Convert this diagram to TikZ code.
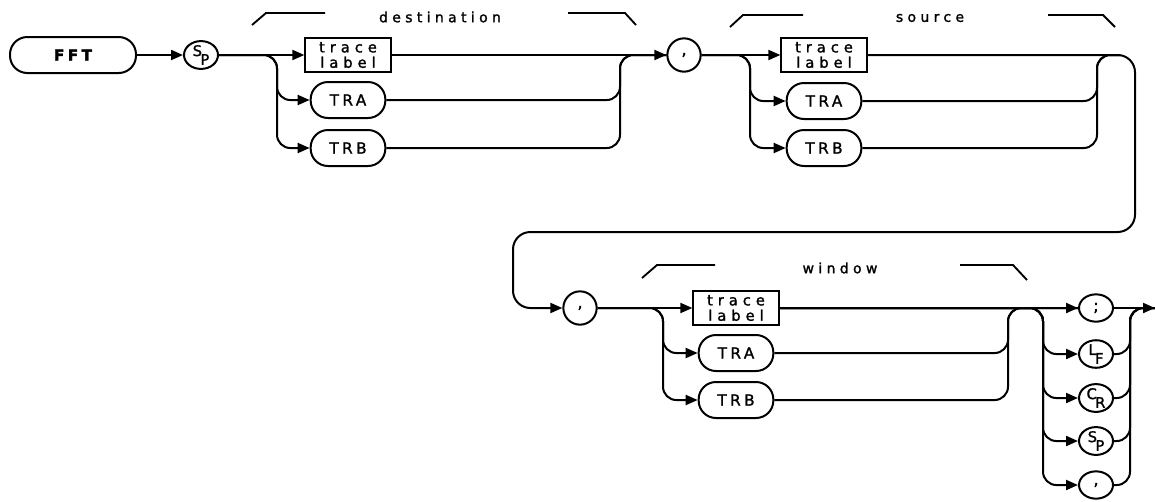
\documentclass[tikz,border=0pt]{standalone}
\usepackage{fontspec}
\setmainfont{DejaVu Sans}
\newfontfamily\hpwide[LetterSpace=31,FakeBold=1.5]{DejaVu Sans}
\newfontfamily\hplbl[LetterSpace=34,FakeBold=1.5]{DejaVu Sans}
\newfontfamily\hpmid[LetterSpace=22,FakeBold=1.5]{DejaVu Sans}
\newfontfamily\hpsym[FakeBold=1.5]{DejaVu Sans}
\newfontfamily\hpbold[LetterSpace=22,FakeBold=2]{DejaVu Sans Bold}
\usetikzlibrary{arrows.meta,shapes.geometric,calc}
\tikzset{
  base/.style={font=\hpmid\fontsize{11.5}{12}\selectfont, inner sep=0pt, align=center},
  term/.style={base, rectangle, rounded corners=13pt, draw, line width=1.5pt, minimum width=56pt, minimum height=27pt},
  tlbl/.style={base, rectangle, draw, line width=1.5pt, minimum width=64pt, minimum height=26pt, font=\hplbl\fontsize{11}{11.5}\selectfont},
  sym/.style={base, ellipse, draw, line width=1.5pt, minimum width=25.5pt, minimum height=20.5pt, font=\hpsym\fontsize{11}{11}\selectfont},
  rnd/.style={sym, circle, minimum size=25pt, font=\hpsym\fontsize{12}{12}\selectfont},
  rail/.style={line width=1.5pt, rounded corners=10pt},
  arr/.style={rail, -{Triangle[length=9pt,width=7.5pt]}},
  grp/.style={font=\hpwide\fontsize{10.5}{11}\selectfont},
  brk/.style={line width=1.4pt},
}
\newcommand{\subl}[2]{\raisebox{3.2pt}{#1}\kern-1.2pt\raisebox{-3.4pt}{#2}}

\begin{document}
\begin{tikzpicture}[x=0.75pt,y=-0.75pt]
  \useasboundingbox (0,0) rectangle (1155,501);
  % first row: destination
  \node[term,minimum width=94.5pt,font=\hpbold\fontsize{11.5}{12}\selectfont] (fft) at (73,55) {FFT};
  \node[sym] (sp1) at (201,55) {\subl{S}{P}};
  \node[tlbl] (dtl) at (348,55) {trace\\label};
  \node[term] (dtra) at (348,100) {TRA};
  \node[term] (dtrb) at (348,148) {TRB};
  \node[rnd] (c1) at (684,55) {,};
  \coordinate (dsplit) at (277,55);
  \coordinate (dmerge) at (620,55);
  % first row: source
  \node[tlbl] (stl) at (824,55) {trace\\label};
  \node[term] (stra) at (824,101) {TRA};
  \node[term] (strb) at (824,148) {TRB};
  \coordinate (ssplit) at (750,55);
  \coordinate (smerge) at (1097,55);
  \coordinate (sjoin) at (1120,55);
  \coordinate (ret1) at (1135,232);
  \coordinate (ret2) at (513,232);
  % second row: window
  \node[rnd] (c2) at (580,308) {,};
  \node[tlbl] (wtl) at (736,308) {trace\\label};
  \node[term] (wtra) at (736,353) {TRA};
  \node[term] (wtrb) at (736,400) {TRB};
  \coordinate (wsplit) at (663,308);
  \coordinate (wmerge) at (1008,308);
  % terminators
  \node[sym,font=\hpsym\fontsize{12}{12}\selectfont] (semi) at (1096,308) {;};
  \node[sym] (lf) at (1096,354) {\subl{L}{F}};
  \node[sym] (cr) at (1096,398) {\subl{C}{R}};
  \node[sym] (sp2) at (1096,441) {\subl{S}{P}};
  \node[sym,font=\hpsym\fontsize{12}{12}\selectfont] (c3) at (1096,485) {,};
  \coordinate (tsplit) at (1043,308);
  \coordinate (tmerge) at (1130,308);
  \coordinate (end) at (1155,308);
  % group labels
  \node[grp] (dest) at (440,17) {destination};
  \node[grp] (src) at (930,18) {source};
  \node[grp] (win) at (840,268) {window};
  \draw[brk] (252,25) -- (266,13) -- (325,13);
  \draw[brk] (568,13) -- (625,13) -- (636,25);
  \draw[brk] (730,27) -- (743,15) -- (803,15);
  \draw[brk] (1048,15) -- (1103,15) -- (1115,27);
  \draw[brk] (642,278) -- (657,265) -- (715,265);
  \draw[brk] (960,265) -- (1013,265) -- (1027,280);
  % connectors
  \draw[arr] (fft) -- (sp1);
  \draw[arr] (sp1) -- (dtl);
  \draw[arr] (sp1.east) -| (dsplit |- dtra) -- (dtra);
  \draw[arr] (sp1.east) -| (dsplit |- dtrb) -- (dtrb);
  \draw[arr] (dtl) -- (c1);
  \draw[rail] (dtra.east) -| (dmerge) -- (c1);
  \draw[rail] (dtrb.east) -| (dmerge) -- (c1);
  \draw[arr] (c1) -- (stl);
  \draw[arr] (c1.east) -| (ssplit |- stra) -- (stra);
  \draw[arr] (c1.east) -| (ssplit |- strb) -- (strb);
  \draw[rail] (stra.east) -| (smerge) -- (sjoin);
  \draw[rail] (strb.east) -| (smerge) -- (sjoin);
  \draw[arr,rounded corners=13pt] (stl.east) -| (ret1) -- (ret2) |- (c2);
  \draw[arr] (c2) -- (wtl);
  \draw[arr] (c2.east) -| (wsplit |- wtra) -- (wtra);
  \draw[arr] (c2.east) -| (wsplit |- wtrb) -- (wtrb);
  \draw[arr] (wtl) -- (semi);
  \draw[rail] (wtra.east) -| (wmerge) -- (semi);
  \draw[rail] (wtrb.east) -| (wmerge) -- (semi);
  \foreach \t in {lf,cr,sp2,c3}{
    \draw[arr] (wtl.east) -| (tsplit |- \t) -- (\t);
    \draw[rail] (\t.east) -| (tmerge) -- (end);
  }
  \draw[arr] (semi) -- (end);
\end{tikzpicture}
\end{document}
